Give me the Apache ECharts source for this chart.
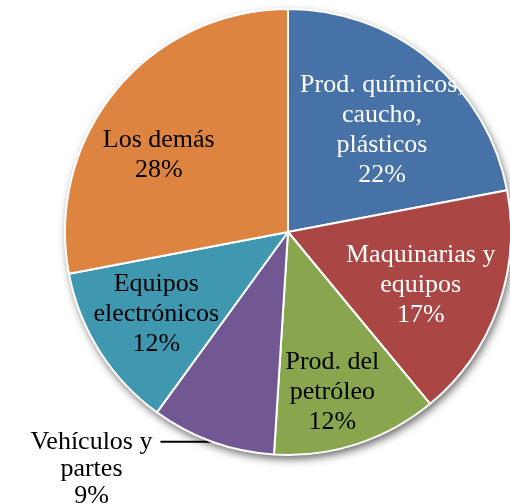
<!DOCTYPE html>
<html>
<head>
<meta charset="utf-8">
<script src="https://cdn.jsdelivr.net/npm/echarts@6/dist/echarts.min.js"></script>
<style>
  html, body { margin: 0; padding: 0; background: #fff; }
  #chart { width: 510px; height: 504px; }
</style>
</head>
<body>
<div id="chart"></div>
<script>
// data
var categories = ['Prod. químicos,\ncaucho,\nplásticos', 'Maquinarias y\nequipos', 'Prod. del\npetróleo', 'Vehículos y\npartes', 'Equipos\nelectrónicos', 'Los demás']
var shares = [22, 17, 12, 9, 12, 28]

var colors = ['#4672a8', '#aa4644', '#89a64f', '#725892', '#3f98b0', '#dc8440']
var labelColors = ['#fff', '#fff', '#000', '#000', '#000', '#000']
// nudges of the inside labels away from the default mid-radius spot
var labelOffsets = [[21, -14], [25, 14], [9, 51], null, [-35, 21], [-41, -4]]

var fontFam = "'Liberation Serif', 'Times New Roman', serif"
var myChart = echarts.init(document.getElementById('chart'))

var total = 0
shares.forEach(function (v) { total += v })

var pieData = shares.map(function (v, i) {
  var item = {
    name: categories[i],
    value: v,
    itemStyle: { color: colors[i] },
    label: { color: labelColors[i] }
  }
  if (i === 3) {
    // the small slice has its label outside, with a short leader
    item.label = {
      position: 'outside',
      color: '#000',
      formatter: function (p) {
        var lines = p.name.split('\n').concat([p.value + '%'])
        return '\n\n' + lines.map(function (t) { return '{a|' + t + '}' }).join('\n')
      },
      lineHeight: 27,
      rich: {
        a: { width: 128, align: 'center', fontSize: 26, fontFamily: fontFam, color: '#000', lineHeight: 27 }
      }
    }
    item.labelLine = { show: true, length: 0, length2: 52, lineStyle: { color: '#000', width: 2 } }
  }
  return item
})

var option = {
  animation: false,
  series: [
    {
      // backdrop disc, only for the drop shadow
      type: 'pie',
      center: [288, 232],
      radius: 223,
      silent: true,
      label: { show: false },
      labelLine: { show: false },
      itemStyle: {
        color: '#fff',
        shadowBlur: 9,
        shadowOffsetX: 2,
        shadowOffsetY: 4,
        shadowColor: 'rgba(0,0,0,0.6)'
      },
      data: [{ value: total }]
    },
    {
      type: 'pie',
      center: [288, 232],
      radius: 223,
      startAngle: 90,
      clockwise: true,
      avoidLabelOverlap: false,
      itemStyle: { borderColor: '#fff', borderWidth: 2 },
      label: {
        show: true,
        position: 'inside',
        fontFamily: fontFam,
        fontSize: 26,
        lineHeight: 30,
        align: 'center',
        formatter: function (p) { return p.name + '\n' + p.value + '%' }
      },
      labelLine: { show: false },
      labelLayout: function (params) {
        var off = labelOffsets[params.dataIndex]
        if (!off) return {}
        return { dx: off[0], dy: off[1] }
      },
      data: pieData
    }
  ]
}

myChart.setOption(option)
</script>
</body>
</html>
